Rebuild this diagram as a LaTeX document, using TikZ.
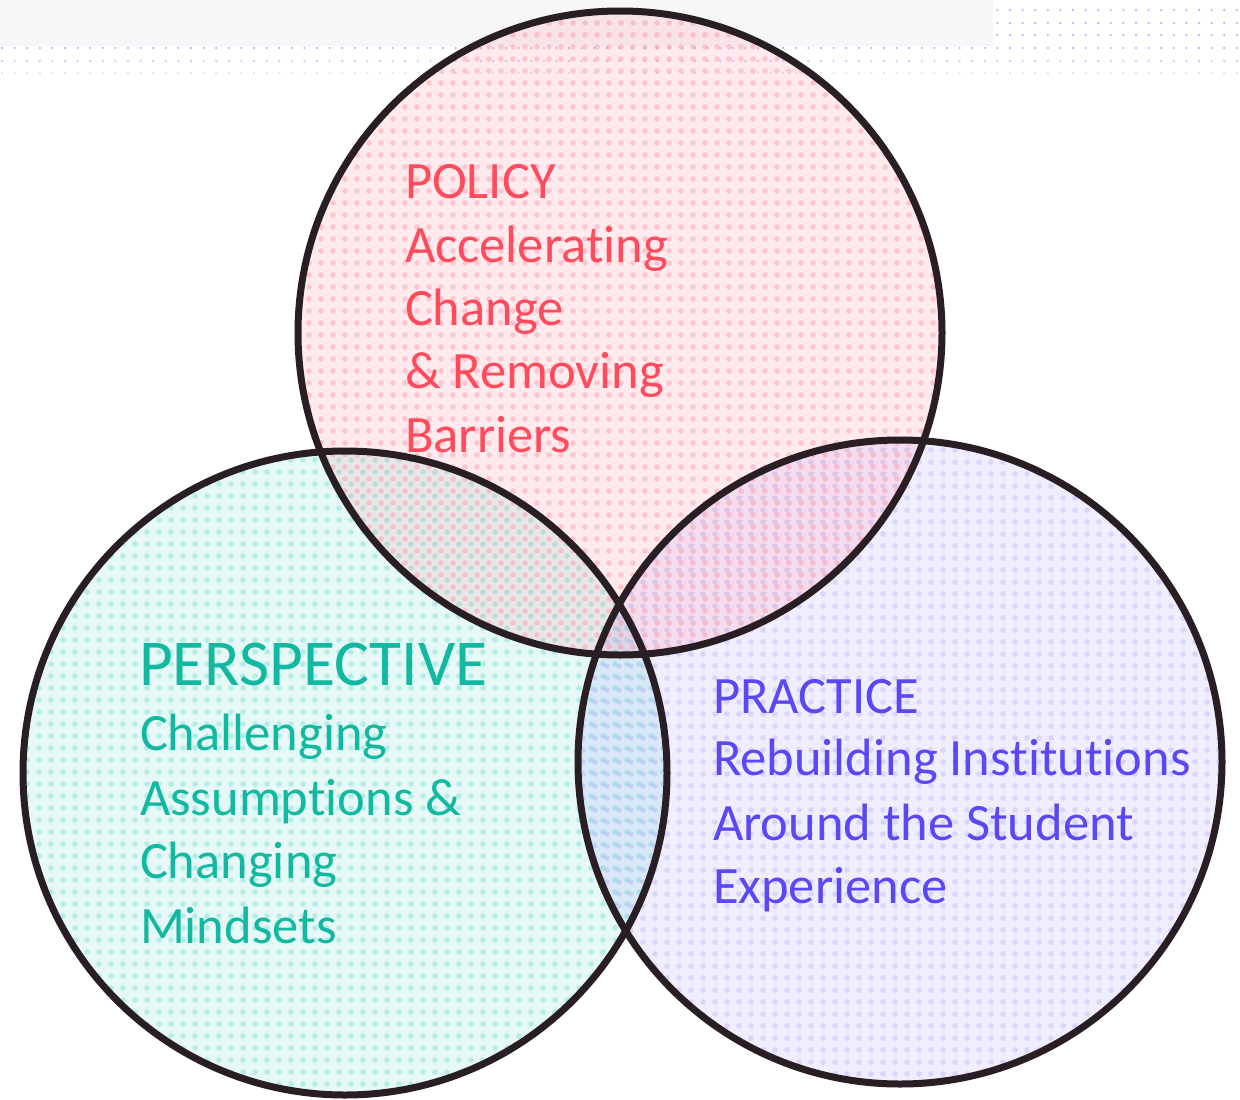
\documentclass[tikz,border=0pt]{standalone}
\usepackage{fontspec}
\setmainfont[Ligatures=NoCommon]{Carlito}
\usetikzlibrary{patterns.meta}
\definecolor{bgray}{RGB}{247,247,249}
\definecolor{gdot}{RGB}{175,165,250}
\definecolor{polfill}{RGB}{255,120,140}
\definecolor{perfill}{RGB}{60,210,195}
\definecolor{prafill}{RGB}{128,110,245}
\definecolor{poltext}{RGB}{255,75,92}
\definecolor{pertext}{RGB}{18,184,160}
\definecolor{pratext}{RGB}{90,72,245}
\definecolor{rim}{RGB}{40,30,35}
\tikzset{
  venn/.style={draw=rim, line width=7pt},
  txt/.style={anchor=base west, inner sep=0pt, outer sep=0pt},
  body/.style={txt, font=\fontsize{52.5}{61}\selectfont},
}
\begin{document}
\begin{tikzpicture}[x=1pt,y=-1pt]
\useasboundingbox (0,0) rectangle (1240,1100);
% background
\fill[bgray] (0,0) rectangle (993,46);
\foreach \r/\o in {48/0.8,61/0.6,73/0.35}{
  \foreach \k in {0,...,98}{
    \fill[gdot, opacity=\o] ({2+12.6*\k},\r) circle (1.3);
  }
}
\foreach \r/\o in {10/0.8,23/0.8,35/0.8}{
  \foreach \k in {79,...,98}{
    \fill[gdot, opacity=\o] ({2+12.6*\k},\r) circle (1.3);
  }
}
% circle positions
\coordinate (cpol) at (620,333);
\coordinate (cper) at (345,773);
\coordinate (cpra) at (900,762);
% fills
\fill[perfill, fill opacity=0.13] (cper) circle (322);
\fill[pattern={Dots[distance=12pt, radius=2.8pt, xshift=3pt, yshift=4pt]}, pattern color=perfill, fill opacity=0.3] (cper) circle (322);
\fill[prafill, fill opacity=0.12] (cpra) circle (322);
\fill[pattern={Dots[distance=12pt, radius=2.8pt, xshift=7pt, yshift=2pt]}, pattern color=prafill, fill opacity=0.2] (cpra) circle (322);
\fill[polfill, fill opacity=0.15] (cpol) circle (322);
\fill[pattern={Dots[distance=12pt, radius=2.8pt, xshift=9pt, yshift=9pt]}, pattern color=polfill, fill opacity=0.33] (cpol) circle (322);
% rims
\draw[venn] (cper) circle (322);
\draw[venn] (cpra) circle (322);
\draw[venn] (cpol) circle (322);
% texts
\begin{scope}[every node/.append style={text=poltext}]
\node[body] (pol1) at (405,198) {POLICY};
\node[body] (pol2) at (405,262) {Accelerating};
\node[body] (pol3) at (405,325) {Change};
\node[body] (pol4) at (405,388) {\& Removing};
\node[body] (pol5) at (405,452) {Barriers};
\end{scope}
\begin{scope}[every node/.append style={text=pertext}]
\node[txt, font=\fontsize{65.5}{72}\selectfont] (per1) at (139,685) {PERSPECTIVE};
\node[body] (per2) at (140,750) {Challenging};
\node[body] (per3) at (140,815) {Assumptions \&};
\node[body] (per4) at (140,878) {Changing};
\node[body] (per5) at (140,943) {Mindsets};
\end{scope}
\begin{scope}[every node/.append style={text=pratext}]
\node[body] (pra1) at (713,713) {PRACTICE};
\node[body] (pra2) at (713,775) {Rebuilding Institutions};
\node[body] (pra3) at (713,840) {Around the Student};
\node[body] (pra4) at (713,903) {Experience};
\end{scope}
\end{tikzpicture}
\end{document}
